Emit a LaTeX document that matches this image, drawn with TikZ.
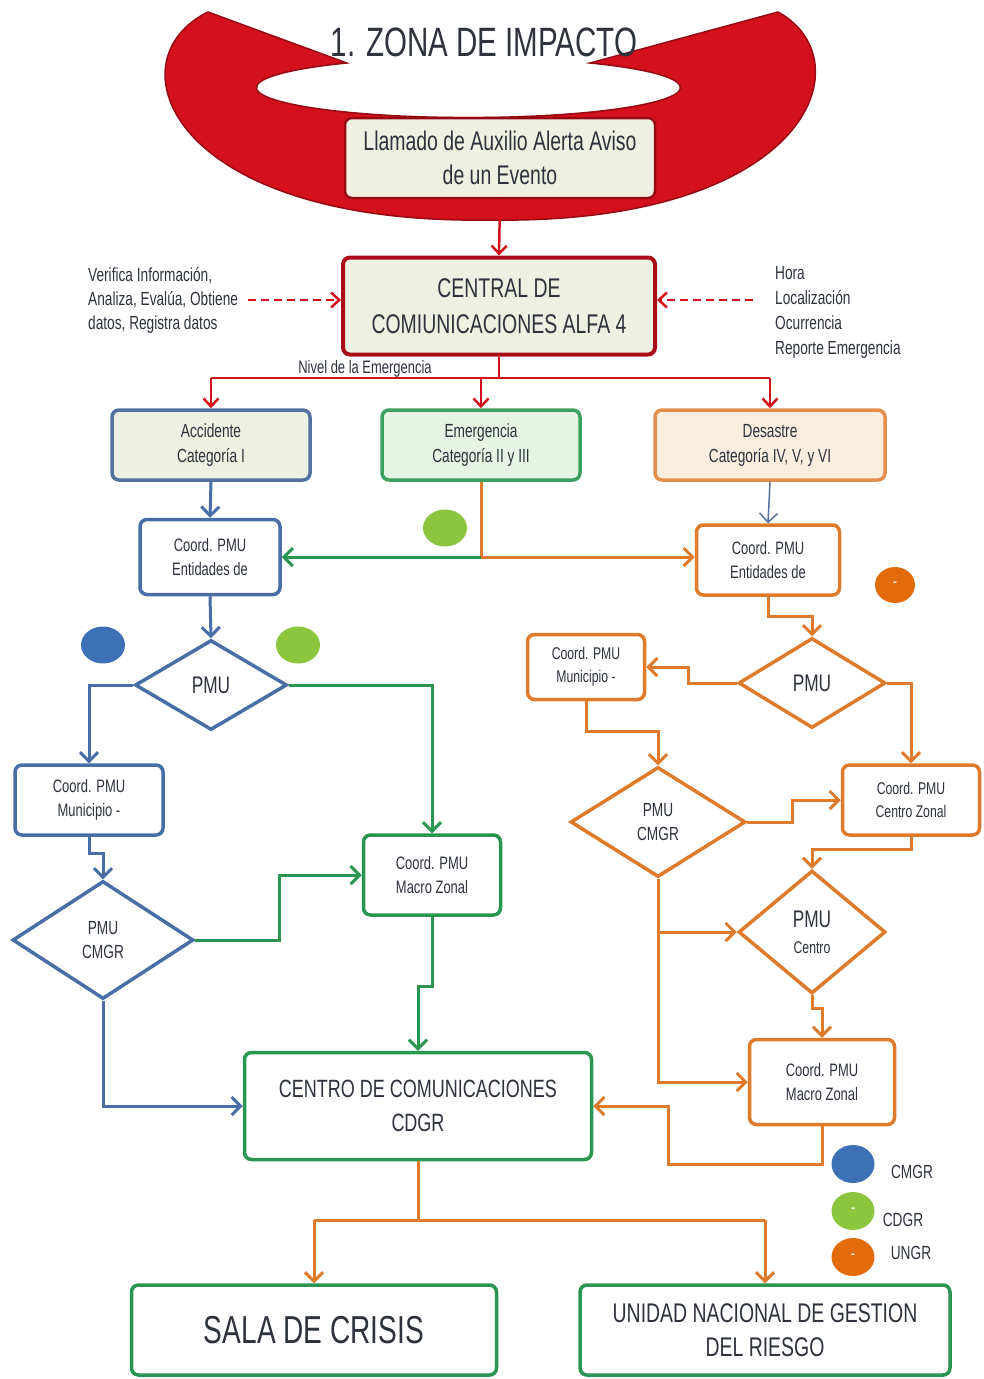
\documentclass[tikz,border=0pt]{standalone}
\usepackage{fontspec}
\setmainfont[FakeStretch=0.72]{Liberation Sans}
\usetikzlibrary{arrows.meta,shapes.geometric}

\definecolor{zred}{RGB}{212,16,28}
\definecolor{zdred}{RGB}{150,10,20}
\definecolor{cblue}{RGB}{72,110,165}
\definecolor{cgreen}{RGB}{40,150,80}
\definecolor{corange}{RGB}{222,122,42}
\definecolor{beige}{RGB}{238,240,226}
\definecolor{mint}{RGB}{230,244,228}
\definecolor{peach}{RGB}{252,238,222}
\definecolor{dotblue}{RGB}{62,112,184}
\definecolor{dotgreen}{RGB}{140,198,62}
\definecolor{dotorange}{RGB}{227,108,10}
\definecolor{txt}{RGB}{45,50,60}

\tikzstyle{box} = [rectangle, rounded corners=7pt, line width=3.5pt, align=center, text=txt, fill=white]
\tikzstyle{rhomb} = [diamond, line width=3.5pt, align=center, text=txt, fill=white]
\tikzstyle{dot} = [ellipse, minimum width=44pt, minimum height=37pt, text=white, font=\fontsize{18}{18}\selectfont]
\tikzstyle{link} = [line width=3pt, ->, >={Straight Barb[length=9pt,width=18pt]}]
\tikzstyle{redlink} = [draw=zred, line width=2.5pt, ->, >={Straight Barb[length=8pt,width=15pt]}]
\tikzstyle{wire} = [line width=3pt]

\begin{document}
\begin{tikzpicture}[x=1pt,y=1pt]
        \tikzstyle{every node}+=[inner sep=0pt]
        \fill [white] (0,0) rectangle (984,-1379);
        \fill [zred, draw=zdred, line width=1.5pt] (208,-12) .. controls (110,-60) and (170,-225) .. (490,-220) .. controls (810,-225) and (866,-60) .. (778,-12) -- (590,-63) arc [start angle=55, end angle=-235, x radius=212pt, y radius=30pt] -- cycle;
        \node [font=\fontsize{41}{44}\selectfont, text=txt] (zona) at (484,-42) {1. ZONA DE IMPACTO};
        \node [box, draw=zdred, line width=2.5pt, fill=beige, minimum width=310pt, minimum height=80pt, font=\fontsize{27}{34}\selectfont] (llamado) at (500,-158) {Llamado de Auxilio Alerta Aviso\\de un Evento};
        \node [box, draw=zred!80!black, line width=4pt, fill=beige, minimum width=312pt, minimum height=97pt, font=\fontsize{27}{36}\selectfont] (central) at (499,-306) {CENTRAL DE\\COMIUNICACIONES ALFA 4};
        \draw [redlink] (llamado.south) -- (central.north);
        \node [anchor=west, align=left, text=txt, font=\fontsize{19}{24}\selectfont] (verif) at (88,-300) {Verifica Información,\\Analiza, Evalúa, Obtiene\\datos, Registra datos};
        \node [anchor=west, align=left, text=txt, font=\fontsize{19}{25}\selectfont] (datos) at (775,-312) {Hora\\Localización\\Ocurrencia\\Reporte Emergencia};
        \draw [redlink, dash pattern=on 8pt off 5pt] ([xshift=10pt]verif.east) -- (verif.east -| central.west);
        \draw [redlink, dash pattern=on 8pt off 5pt] ([xshift=-22pt]datos.west |- verif.east) -- (central.east |- verif.east);
        \node [box, draw=cblue!80!gray, fill=beige, minimum width=198pt, minimum height=70pt, font=\fontsize{19}{25}\selectfont] (acc) at (211,-445) {Accidente\\Categoría I};
        \node [box, draw=cgreen!90, fill=mint, minimum width=198pt, minimum height=70pt, font=\fontsize{19}{25}\selectfont] (emer) at (481,-445) {Emergencia\\Categoría II y III};
        \node [box, draw=corange!85, fill=peach, minimum width=230pt, minimum height=70pt, font=\fontsize{19}{25}\selectfont] (des) at (770,-445) {Desastre\\Categoría IV, V, y VI};
        \coordinate (nivelsplit) at (499,-378);
        \draw [draw=zred, line width=2.5pt] (central.south) -- (nivelsplit);
        \draw [draw=zred, line width=2.5pt] (acc.north |- nivelsplit) -- (des.north |- nivelsplit);
        \draw [redlink] (acc.north |- nivelsplit) -- (acc.north);
        \draw [redlink] (emer.north |- nivelsplit) -- (emer.north);
        \draw [redlink] (des.north |- nivelsplit) -- (des.north);
        \node [text=txt, font=\fontsize{18}{20}\selectfont] (nivel) at (365,-369) {Nivel de la Emergencia};
        \node [box, draw=cblue, fill=white, minimum width=140pt, minimum height=75pt, font=\fontsize{18}{24}\selectfont] (entB) at (210,-557) {Coord. PMU\\Entidades de};
        \node [box, draw=corange, fill=white, minimum width=143pt, minimum height=70pt, font=\fontsize{18}{24}\selectfont] (entO) at (768,-560) {Coord. PMU\\Entidades de};
        \draw [link, cblue] (acc.south) -- (entB.north);
        \draw [link, cblue!80!gray, line width=1.5pt] (des.south) -- (entO.north);
        \coordinate (ebranch) at (emer.south |- entB.east);
        \draw [wire, corange] (emer.south) -- (ebranch);
        \draw [link, cgreen] (ebranch) -- (entB.east);
        \draw [link, corange] (ebranch) -- (ebranch -| entO.west);
        \node [dot, fill=dotgreen] (dotG1) at (445,-528) {};
        \node [dot, fill=dotorange, minimum width=40pt, minimum height=36pt] (dotO1) at (895,-585) {-};
        \node [rhomb, draw=cblue, minimum width=152pt, minimum height=90pt, font=\fontsize{24}{28}\selectfont] (pmuB) at (211,-685) {PMU};
        \draw [link, cblue] (entB.south) -- (pmuB.north);
        \node [dot, fill=dotblue] (dotB2) at (103,-645) {};
        \node [dot, fill=dotgreen] (dotG2) at (298,-645) {};
        \node [box, draw=cblue, minimum width=148pt, minimum height=70pt, font=\fontsize{18}{24}\selectfont] (munB) at (89,-800) {Coord. PMU\\Municipio -};
        \node [box, draw=cgreen, minimum width=137pt, minimum height=80pt, font=\fontsize{18}{24}\selectfont] (macroG) at (432,-875) {Coord. PMU\\Macro Zonal};
        \draw [link, cblue] (pmuB.west) -| (munB.north);
        \draw [link, cgreen] (pmuB.east) -| (macroG.north);
        \node [rhomb, draw=cblue, minimum width=181pt, minimum height=118pt, font=\fontsize{19}{24}\selectfont] (cmgrB) at (103,-940) {PMU\\CMGR};
        \draw [link, cblue] (munB.south) -- ++(0,-17) -| (cmgrB.north);
        \draw [link, cgreen] (cmgrB.east) -- ++(84,0) |- (macroG.west);
        \node [box, draw=cgreen, minimum width=347pt, minimum height=107pt, font=\fontsize{25}{34}\selectfont] (cdgr) at (418,-1106) {CENTRO DE COMUNICACIONES\\CDGR};
        \draw [link, cblue] (cmgrB.south) |- (cdgr.west);
        \draw [link, cgreen] (macroG.south) -- ++(0,-70) -| (cdgr.north);
        \node [rhomb, draw=corange, minimum width=147pt, minimum height=90pt, font=\fontsize{24}{28}\selectfont] (pmuO) at (812,-683) {PMU};
        \draw [link, corange] (entO.south) -- ++(0,-20) -| (pmuO.north);
        \node [box, draw=corange, minimum width=117pt, minimum height=65pt, font=\fontsize{17}{23}\selectfont] (munO) at (586,-667) {Coord. PMU\\Municipio -};
        \node [box, draw=corange, minimum width=137pt, minimum height=70pt, font=\fontsize{17}{23}\selectfont] (centroZ) at (911,-800) {Coord. PMU\\Centro Zonal};
        \draw [link, corange] (pmuO.west) -- ++(-48,0) |- (munO.east);
        \draw [link, corange] (pmuO.east) -| (centroZ.north);
        \node [rhomb, draw=corange, minimum width=175pt, minimum height=110pt, font=\fontsize{19}{24}\selectfont] (cmgrO) at (658,-822) {PMU\\CMGR};
        \draw [link, corange] (munO.south) -- ++(0,-30) -| (cmgrO.north);
        \draw [link, corange] (cmgrO.east) -- ++(45,0) |- (centroZ.west);
        \node [rhomb, draw=corange, minimum width=147pt, minimum height=123pt, font=\fontsize{24}{26}\selectfont] (pmuC) at (812,-932) {PMU\\{\fontsize{17}{20}\selectfont Centro}};
        \draw [link, corange] (centroZ.south) -- ++(0,-13) -| (pmuC.north);
        \node [box, draw=corange, minimum width=145pt, minimum height=85pt, font=\fontsize{18}{24}\selectfont] (macroO) at (822,-1082) {Coord. PMU\\Macro Zonal};
        \draw [link, corange] (cmgrO.south) |- (macroO.west);
        \draw [link, corange] (cmgrO.south |- pmuC.west) -- (pmuC.west);
        \draw [link, corange] (pmuC.south) -- ++(0,-13) -| (macroO.north);
        \draw [link, corange] (macroO.south) -- ++(0,-38) -- ++(-154,0) |- (cdgr.east);
        \node [box, draw=cgreen, minimum width=365pt, minimum height=90pt, font=\fontsize{39}{44}\selectfont] (sala) at (314,-1330) {SALA DE CRISIS};
        \node [box, draw=cgreen, minimum width=370pt, minimum height=90pt, font=\fontsize{27}{34}\selectfont] (ungr) at (765,-1330) {UNIDAD NACIONAL DE GESTION\\DEL RIESGO};
        \coordinate (bsplit) at (418,-1220);
        \draw [wire, corange] (cdgr.south) -- (bsplit);
        \draw [wire, corange] (sala.north |- bsplit) -- (ungr.north |- bsplit);
        \draw [link, corange] (sala.north |- bsplit) -- (sala.north);
        \draw [link, corange] (ungr.north |- bsplit) -- (ungr.north);
        \node [dot, fill=dotblue, minimum width=43pt, minimum height=38pt] (legB) at (853,-1164) {};
        \node [dot, fill=dotgreen, minimum width=43pt, minimum height=38pt] (legG) at (853,-1211) {-};
        \node [dot, fill=dotorange, minimum width=43pt, minimum height=38pt] (legO) at (853,-1257) {-};
        \node [text=txt, font=\fontsize{19}{20}\selectfont] (legBt) at (912,-1172) {CMGR};
        \node [text=txt, font=\fontsize{19}{20}\selectfont] (legGt) at (903,-1220) {CDGR};
        \node [text=txt, font=\fontsize{19}{20}\selectfont] (legOt) at (911,-1253) {UNGR};
\end{tikzpicture}
\end{document}
